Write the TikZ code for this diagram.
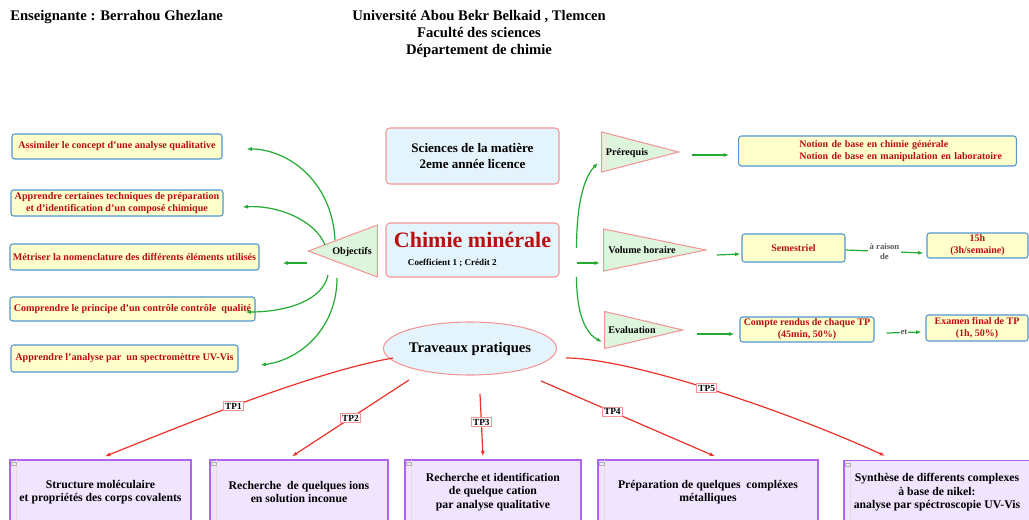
\documentclass[tikz,border=0pt]{standalone}
\usepackage{fontspec}
\setmainfont{Liberation Serif}
\usetikzlibrary{arrows.meta,positioning,shapes.geometric}

\definecolor{gline}{RGB}{34,170,50}
\definecolor{rline}{RGB}{235,50,40}
\definecolor{tred}{RGB}{185,15,15}
\definecolor{yfill}{RGB}{255,255,204}
\definecolor{bborder}{RGB}{80,150,210}
\definecolor{gfill}{RGB}{220,245,220}
\definecolor{pborder}{RGB}{245,150,150}
\definecolor{bfill}{RGB}{228,244,252}
\definecolor{vborder}{RGB}{175,100,240}
\definecolor{vfill}{RGB}{240,228,255}

\newcommand{\px}{0.75pt}

\begin{document}
\begin{tikzpicture}[
x=0.75pt, y=-0.75pt,
>={Latex[length=4pt,width=3pt]},
obox/.style={draw=bborder, fill=yfill, rounded corners=2pt, line width=0.8pt, text=tred, align=center, inner sep=1pt, font=\fontsize{7.6}{9}\selectfont\bfseries},
rbox/.style={obox, font=\fontsize{7.5}{9}\selectfont\bfseries},
cbox/.style={draw=pborder, fill=bfill, rounded corners=3pt, line width=0.8pt, align=center, font=\fontsize{9.8}{12.5}\selectfont\bfseries},
tri/.style={isosceles triangle, isosceles triangle stretches, draw=pborder, fill=gfill, line width=0.8pt, inner sep=0pt},
tritxt/.style={font=\fontsize{7.6}{8.5}\selectfont\bfseries, inner sep=0pt},
tpbox/.style={draw=vborder, fill=vfill, line width=1pt, align=center, minimum height=64*\px, font=\fontsize{8.8}{10.2}\selectfont\bfseries},
tplab/.style={draw=pborder, fill=white, line width=0.6pt, inner sep=1.2pt, font=\fontsize{7}{8}\selectfont\bfseries},
small/.style={fill=white, text=gray!70!black, align=center, inner sep=1pt, font=\fontsize{6.5}{8}\selectfont\bfseries},
garrow/.style={->, draw=gline, line width=0.9pt},
rarrow/.style={->, draw=rline, line width=0.9pt}
]
\useasboundingbox (0,0) rectangle (1029,520);

% header
\node[anchor=west, inner sep=0pt, font=\fontsize{11}{12.75}\selectfont\bfseries] (teach) at (10,17) {Enseignante : Berrahou Ghezlane};
\node[align=center, inner sep=0pt, font=\fontsize{11}{12.75}\selectfont\bfseries] (univ) at (479,34) {Université Abou Bekr Belkaid , Tlemcen\\Faculté des sciences\\Département de chimie};

% objectifs
\node[obox, minimum width=210*\px, minimum height=25*\px] (o1) at (117,146.5) {Assimiler le concept d'une analyse qualitative};
\node[obox, minimum width=212*\px, minimum height=26*\px] (o2) at (117,203) {Apprendre certaines techniques de préparation\\et d'identification d'un composé chimique};
\node[obox, minimum width=249*\px, minimum height=26*\px] (o3) at (134.5,257) {Métriser la nomenclature des différents éléments utilisés};
\node[obox, minimum width=245*\px, minimum height=24*\px] (o4) at (132.5,309) {Comprendre le principe d'un contrôle contrôle\ \ qualité};
\node[obox, minimum width=227*\px, minimum height=27*\px] (o5) at (124.5,358.5) {Apprendre l'analyse par\ \ un spectromèttre UV-Vis};

\node[tri, shape border rotate=180, minimum height=69*\px, minimum width=52*\px, anchor=apex] (obj) at (307,251) {};
\node[tritxt] (objtxt) at (352,252) {Objectifs};

% centre
\node[cbox, minimum width=173*\px, minimum height=56*\px] (sci) at (472.5,156) {Sciences de la matière\\2eme année licence};
\node[cbox, minimum width=173*\px, minimum height=54*\px, align=left] (chim) at (472.5,250) {{\fontsize{16.5}{18}\selectfont\color{tred}Chimie minérale}\\[1pt]\hspace*{10.5pt}{\fontsize{6.8}{7.5}\selectfont Coefficient 1 ; Crédit 2}};
\node[ellipse, draw=pborder, fill=bfill, line width=0.8pt, minimum width=166*\px, minimum height=53*\px, inner sep=0pt, font=\fontsize{11}{12}\selectfont\bfseries] (tp) at (470,348.5) {Traveaux pratiques};

% right side
\node[tri, minimum height=77*\px, minimum width=40*\px, anchor=apex] (pre) at (680,152) {};
\node[tritxt] (pretxt) at (627,153) {Prérequis};
\node[tri, minimum height=102*\px, minimum width=42*\px, anchor=apex] (vol) at (707,250) {};
\node[tritxt] (voltxt) at (642,250) {Volume horaire};
\node[tri, minimum height=78*\px, minimum width=37*\px, anchor=apex] (eva) at (684,330) {};
\node[tritxt] (evatxt) at (632,330) {Evaluation};

\node[rbox, minimum height=30*\px, text width=275*\px, align=left] (prebox) at (877.5,151) {\hspace*{44.5pt}Notion de base en chimie générale\\\hspace*{44.5pt}Notion de base en manipulation en laboratoire};
\node[rbox, minimum width=103*\px, minimum height=28*\px] (sem) at (793.5,248) {Semestriel};
\node[rbox, minimum width=101*\px, minimum height=25*\px] (h15) at (977.5,245.5) {15h\\(3h/semaine)};
\node[rbox, minimum width=134*\px, minimum height=25*\px] (cr) at (807,329.5) {Compte rendus de chaque TP\\(45min, 50\%)};
\node[rbox, minimum width=102*\px, minimum height=26*\px] (exam) at (977,328) {Examen final de TP\\(1h, 50\%)};

% travaux pratiques
\node[tpbox, minimum width=181*\px] (tpb1) at (100.5,492) {Structure moléculaire\\et propriétés des corps covalents};
\node[tpbox, minimum width=178*\px] (tpb2) at (299,492) {Recherche\ \ de quelques ions\\en solution inconue};
\node[tpbox, minimum width=176*\px] (tpb3) at (493,492) {Recherche et identification\\de quelque cation\\par analyse qualitative};
\node[tpbox, minimum width=220*\px] (tpb4) at (708,492) {Préparation de quelques\ \ compléxes\\métalliques};
\node[tpbox, minimum width=186*\px] (tpb5) at (937,492.5) {Synthèse de differents complexes\\à base de nikel:\\analyse par spéctroscopie UV-Vis};
\foreach \b in {tpb1,tpb2,tpb3,tpb4,tpb5} {
  \draw[gray!25, line width=0.6pt] ([shift={(7,1)}]\b.north west) -- ([shift={(7,-1)}]\b.south west);
  \draw[gray!60, fill=gray!15, line width=0.3pt] ([shift={(2,3)}]\b.north west) rectangle +(5,3);
}

% green connectors
\draw[garrow] ([shift={(28,-11)}]obj.apex) .. controls +(-3,-60) and +(40,0) .. ([shift={(24,2.5)}]o1.east);
\draw[garrow] ([shift={(18,-6)}]obj.apex) .. controls +(-10,-25) and +(35,-2) .. ([shift={(19,4)}]o2.east);
\draw[garrow] ([shift={(0,12)}]obj.apex) -- ([shift={(23,6)}]o3.east);
\draw[garrow] ([shift={(21,24)}]obj.apex) .. controls +(-5,25) and +(42,0) .. ([shift={(-10,3)}]o4.east);
\draw[garrow] ([shift={(30,27)}]obj.apex) .. controls +(0,50) and +(40,-5) .. ([shift={(22,6.5)}]o5.east);

\draw[garrow] ([shift={(17,-2)}]chim.east) .. controls +(0,-50) and +(-12,12) .. ([shift={(-82,11)}]pre.apex);
\draw[garrow] ([shift={(17,13)}]chim.east) -- ([shift={(-107,13)}]vol.apex);
\draw[garrow] ([shift={(17,27)}]chim.east) .. controls +(0,40) and +(-15,-8) .. ([shift={(-82,12)}]eva.apex);

\draw[garrow] ([shift={(12,3)}]pre.apex) -- ([shift={(-9,4)}]prebox.west);
\draw[garrow] ([shift={(10,5)}]vol.apex) -- ([shift={(-1,6)}]sem.west);
\draw[garrow] ([shift={(13,4)}]eva.apex) -- ([shift={(-5,4.5)}]cr.west);
\draw[garrow] ([shift={(0,2)}]sem.east) -- node[small]{à raison\\de} ([shift={(-3,7.5)}]h15.west);
\draw[garrow] ([shift={(12,3.5)}]cr.east) -- node[small, inner sep=0.5pt]{et} ([shift={(-4,4)}]exam.west);

% red connectors
\draw[rarrow] ([shift={(-77,9.5)}]tp.center) .. controls +(-80,14) and +(80,-32) .. node[tplab, pos=0.55]{TP1} ([shift={(4.5,-3)}]tpb1.north);
\draw[rarrow] ([shift={(-61,31.5)}]tp.center) -- node[tplab, pos=0.5]{TP2} ([shift={(-7,-3)}]tpb2.north);
\draw[rarrow] ([shift={(10,45.5)}]tp.center) -- node[tplab, pos=0.45]{TP3} ([shift={(-10,-3)}]tpb3.north);
\draw[rarrow] ([shift={(71,32.5)}]tp.center) -- node[tplab, pos=0.41]{TP4} ([shift={(7,-3)}]tpb4.north);
\draw[rarrow] ([shift={(96,9.5)}]tp.center) .. controls +(60,0) and +(-110,-50) .. node[tplab, pos=0.5]{TP5} ([shift={(-52,-4)}]tpb5.north);
\end{tikzpicture}
\end{document}
